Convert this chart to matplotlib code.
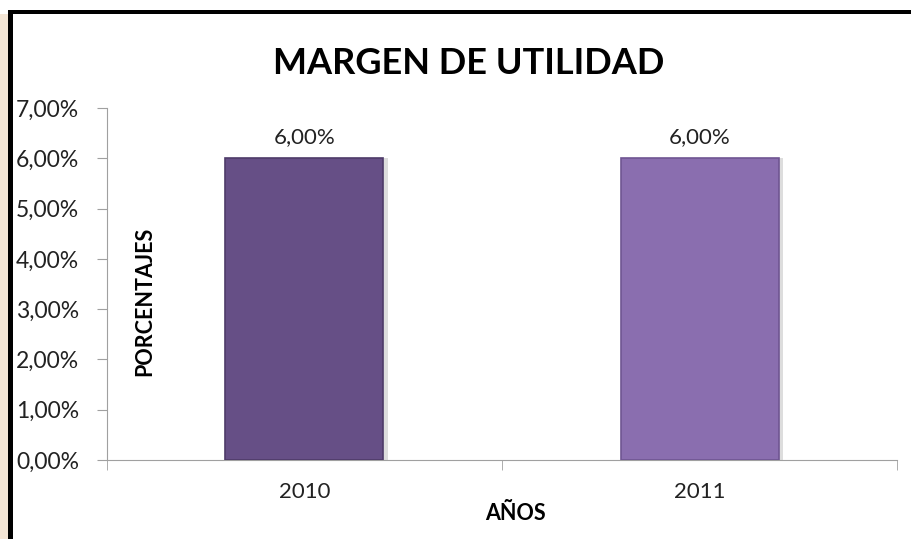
import matplotlib.pyplot as plt
from matplotlib.patches import Rectangle
from matplotlib.ticker import FuncFormatter, FixedLocator

plt.rcParams['font.family'] = ['Lato', 'DejaVu Sans']

years = ['2010', '2011']
margins = [0.06, 0.06]
bar_colors = ['#664F86', '#8A6EAF']
edge_colors = ['#4E3B69', '#6F5592']
y_ticks = [0.00, 0.01, 0.02, 0.03, 0.04, 0.05, 0.06, 0.07]

fig = plt.figure(figsize=(9.12, 5.39), dpi=100)
fig.patch.set_facecolor('white')

# franja beige a la izquierda y marco negro
fig.add_artist(Rectangle((0, 0), 9 / 912, 1 - 14 / 539, transform=fig.transFigure,
                         facecolor='#F4E6D6', edgecolor='none', zorder=0))
fig.add_artist(Rectangle((8 / 912, 0), 5 / 912, 1 - 10 / 539, transform=fig.transFigure,
                         facecolor='black', edgecolor='none', zorder=5))
fig.add_artist(Rectangle((8 / 912, 1 - 14 / 539), 1 - 8 / 912, 4 / 539, transform=fig.transFigure,
                         facecolor='black', edgecolor='none', zorder=5))

ax = fig.add_axes([107 / 912, 79 / 539, 790 / 912, 352 / 539])
x = range(len(years))
bars = ax.bar(x, margins, width=0.4, color=bar_colors, edgecolor=edge_colors, linewidth=1.2, zorder=3)

# sombra a la derecha
for b in bars:
    ax.add_patch(Rectangle((b.get_x() + b.get_width(), 0), 0.012, b.get_height(),
                           facecolor='#DDDDDD', edgecolor='none', zorder=2))

for b, v in zip(bars, margins):
    ax.text(b.get_x() + b.get_width() / 2, v + 0.0023, f'{v * 100:.2f}%'.replace('.', ','),
            ha='center', va='bottom', fontsize=16, color='#222222')

ax.set_xlim(-0.5, 1.5)
ax.set_ylim(0, 0.07)
ax.set_yticks(y_ticks)
ax.yaxis.set_major_formatter(FuncFormatter(lambda v, p: f'{v * 100:.2f}%'.replace('.', ',')))
ax.set_xticks(list(x))
ax.set_xticklabels(years)
ax.xaxis.set_minor_locator(FixedLocator([-0.5, 0.5, 1.5]))
ax.tick_params(axis='x', which='major', length=0, labelsize=16, pad=16, colors='#222222')
ax.tick_params(axis='x', which='minor', length=7, color='#A0A0A0')
ax.tick_params(axis='y', length=7, color='#A0A0A0', labelsize=16.5, labelcolor='#222222', pad=13)

for s in ['top', 'right']:
    ax.spines[s].set_visible(False)
ax.spines['left'].set_color('#A0A0A0')
ax.spines['bottom'].set_color('#A0A0A0')

fig.text(469 / 912, 1 - 63 / 539, 'MARGEN DE UTILIDAD', ha='center', va='center',
         fontsize=26, fontweight='bold', color='black')
fig.text(145 / 912, 1 - 301 / 539, 'PORCENTAJES', ha='center', va='center', rotation=90,
         fontsize=15.5, fontweight='bold', color='black')
fig.text(515 / 912, 1 - 514 / 539, 'AÑOS', ha='center', va='center',
         fontsize=15.5, fontweight='bold', color='black')

fig.savefig('out.png', dpi=100)
